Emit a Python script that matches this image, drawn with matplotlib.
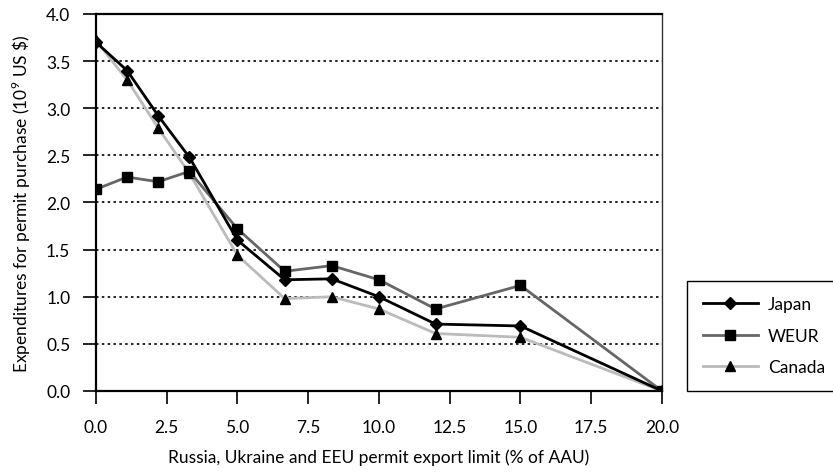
import matplotlib
matplotlib.use("Agg")
import matplotlib.pyplot as plt

plt.rcParams['font.family'] = ['Lato', 'DejaVu Sans']
plt.rcParams['mathtext.fontset'] = 'custom'
plt.rcParams['mathtext.rm'] = 'Lato'

# export limit (% of AAU)
limit = [0, 1.1, 2.2, 3.3, 5.0, 6.67, 8.33, 10.0, 12.0, 15.0, 20.0]

japan = [3.70, 3.40, 2.92, 2.48, 1.60, 1.18, 1.19, 1.00, 0.71, 0.69, 0.0]
weur = [2.14, 2.27, 2.22, 2.33, 1.72, 1.27, 1.33, 1.18, 0.87, 1.12, 0.0]
canada = [3.72, 3.30, 2.79, 2.31, 1.44, 0.98, 1.00, 0.87, 0.61, 0.57, 0.0]

xticks = [0, 2.5, 5, 7.5, 10, 12.5, 15, 17.5, 20]
yticks = [0, 0.5, 1, 1.5, 2, 2.5, 3, 3.5, 4]


def main():
    fig = plt.figure(figsize=(8.33, 4.77), dpi=100)
    ax = fig.add_axes([0.1152, 0.1782, 0.6795, 0.7904])

    for y in yticks[1:-1]:
        ax.axhline(y, color='black', lw=1.2, ls=(0, (1.5, 2)), zorder=0)

    ax.plot(limit, japan, color='black', lw=2, marker='D', ms=6, mfc='black', mec='black', label='Japan', zorder=5)
    ax.plot(limit, weur, color='#666666', lw=2, marker='s', ms=6.5, mfc='black', mec='black', label='WEUR', zorder=4)
    ax.plot(limit, canada, color='#bbbbbb', lw=2, marker='^', ms=7.5, mfc='black', mec='black', label='Canada', zorder=3)

    ax.set_xlim(0, 20)
    ax.set_ylim(0, 4)
    ax.set_xticks(xticks)
    ax.set_xticklabels(['%.1f' % v for v in xticks])
    ax.set_yticks(yticks)
    ax.set_yticklabels(['%.1f' % v for v in yticks])
    ax.tick_params(direction='out', length=9.5, width=1.2, labelsize=12.5)
    ax.tick_params(axis='x', pad=11)
    ax.tick_params(axis='y', pad=9)

    for s in ['left', 'bottom', 'top']:
        ax.spines[s].set_linewidth(1.6)
    ax.spines['right'].set_linewidth(1.0)
    ax.spines['right'].set_color('#333333')
    ax.patch.set_visible(False)

    ax.set_xlabel('Russia, Ukraine and EEU permit export limit (% of AAU)', fontsize=12.5, labelpad=9)
    ax.set_ylabel('Expenditures for permit purchase (10$^9$ US \\$)', fontsize=12.5, labelpad=9)

    leg = fig.legend(loc='lower left', bbox_to_anchor=(0.8247, 0.178), fontsize=12.5,
                     frameon=True, fancybox=False, edgecolor='black', framealpha=1,
                     handlelength=3.2, labelspacing=0.9, borderaxespad=0, borderpad=0.9,
                     handletextpad=0.55)
    leg.get_frame().set_linewidth(1.0)

    fig.savefig('out.png', dpi=100)
    return 0


if __name__ == '__main__':
    main()
